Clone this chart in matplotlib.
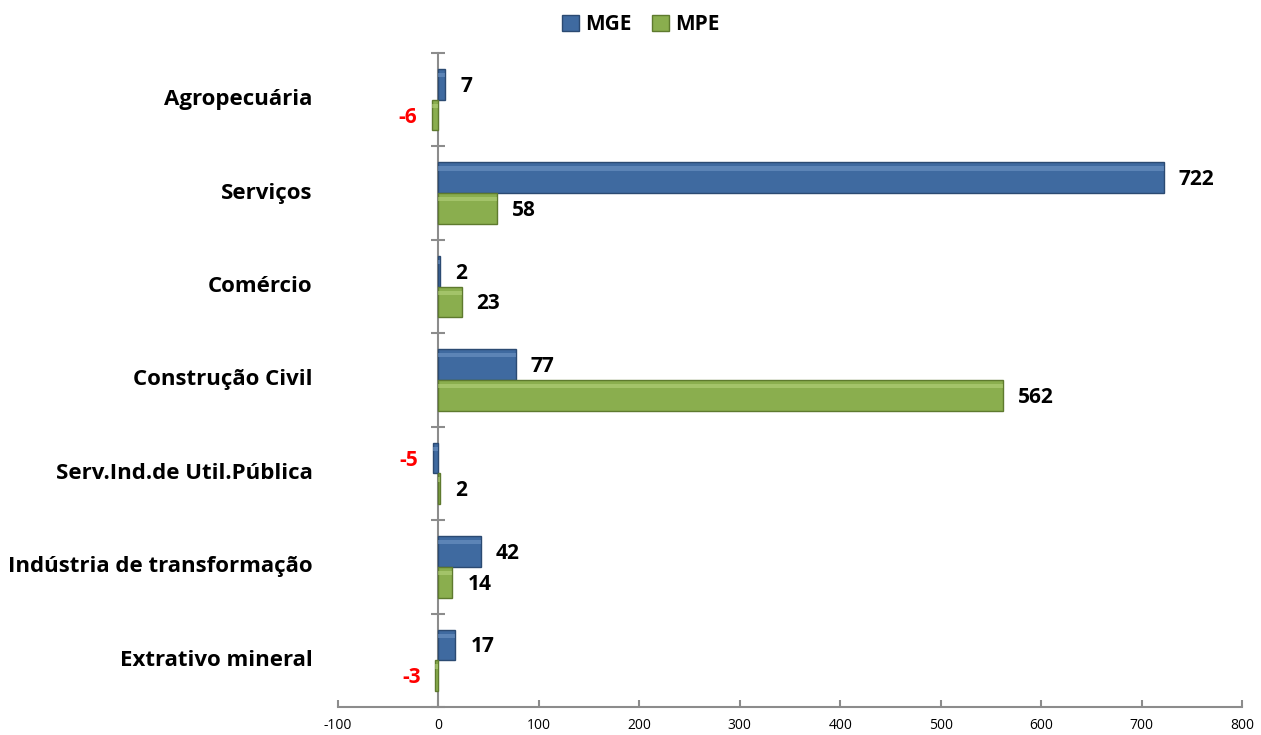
import matplotlib.pyplot as plt
import numpy as np
from matplotlib.patches import Patch
from matplotlib.transforms import blended_transform_factory, offset_copy

plt.rcParams['font.family'] = ['Open Sans', 'DejaVu Sans']

categories = ['Agropecuária', 'Serviços', 'Comércio', 'Construção Civil',
              'Serv.Ind.de Util.Pública', 'Indústria de transformação',
              'Extrativo mineral']
mge = [7, 722, 2, 77, -5, 42, 17]
mpe = [-6, 58, 23, 562, 2, 14, -3]
x_ticks = [-100, 0, 100, 200, 300, 400, 500, 600, 700, 800]

blue = '#3F6AA0'
blue_edge = '#2B4A72'
green = '#8AAE4E'
green_edge = '#5E7A2E'
axis_grey = '#8C8C8C'

fig = plt.figure(figsize=(12.61, 7.35), dpi=100)
ax = fig.add_axes([0.268, 0.038, 0.717, 0.890])

y = np.arange(len(categories))
h = 0.33

ax.barh(y - h / 2, mge, height=h, color=blue, edgecolor=blue_edge, linewidth=1, zorder=3)
ax.barh(y + h / 2, mpe, height=h, color=green, edgecolor=green_edge, linewidth=1, zorder=3)
# light bevel strip on top of each bar
ax.barh(y - h * 0.80, mge, height=h * 0.14, color='#7A9ECC', linewidth=0, zorder=4, alpha=0.5)
ax.barh(y + h * 0.20, mpe, height=h * 0.14, color='#BCD884', linewidth=0, zorder=4, alpha=0.5)

ax.set_xlim(-100, 800)
ax.set_ylim(len(categories) - 0.5, -0.5)

# value labels
for vals, off in ((mge, -h / 2), (mpe, h / 2)):
    for i, v in enumerate(vals):
        if v >= 0:
            tr = offset_copy(ax.transData, fig=fig, x=15, y=-2, units='dots')
            ax.text(v, i + off, str(v), transform=tr, ha='left', va='center',
                    fontsize=15, fontweight='bold', color='black')
        else:
            tr = offset_copy(ax.transData, fig=fig, x=-15, y=-2, units='dots')
            ax.text(v, i + off, str(v), transform=tr, ha='right', va='center',
                    fontsize=15, fontweight='bold', color='#FF0000')

# category labels on the far left
bt = blended_transform_factory(ax.transAxes, ax.transData)
for i, c in enumerate(categories):
    ax.text(-0.028, i, c, transform=bt, ha='right', va='center',
            fontsize=16, fontweight='bold')

# axes styling
for s in ('top', 'right'):
    ax.spines[s].set_visible(False)
ax.spines['left'].set_position(('data', 0))
ax.spines['left'].set_color(axis_grey)
ax.spines['left'].set_linewidth(1.5)
ax.spines['bottom'].set_color(axis_grey)
ax.spines['bottom'].set_linewidth(1.5)

ax.set_yticks(np.arange(-0.5, len(categories), 1.0))
ax.set_yticklabels([])
ax.tick_params(axis='y', direction='inout', length=10, width=1.5, color=axis_grey)
ax.set_xticks(x_ticks)
ax.set_xticklabels([str(t) for t in x_ticks], fontsize=10)
ax.tick_params(axis='x', direction='in', length=5, width=1.5, color=axis_grey, pad=8)

handles = [Patch(facecolor=blue, edgecolor=blue_edge), Patch(facecolor=green, edgecolor=green_edge)]
fig.legend(handles, ['MGE', 'MPE'], loc='center', bbox_to_anchor=(0.508, 0.966), ncol=2,
           frameon=False, prop={'size': 15, 'weight': 'bold'},
           handlelength=0.8, handleheight=0.8, handletextpad=0.3, columnspacing=1.0)

fig.savefig('out.png', dpi=100)
